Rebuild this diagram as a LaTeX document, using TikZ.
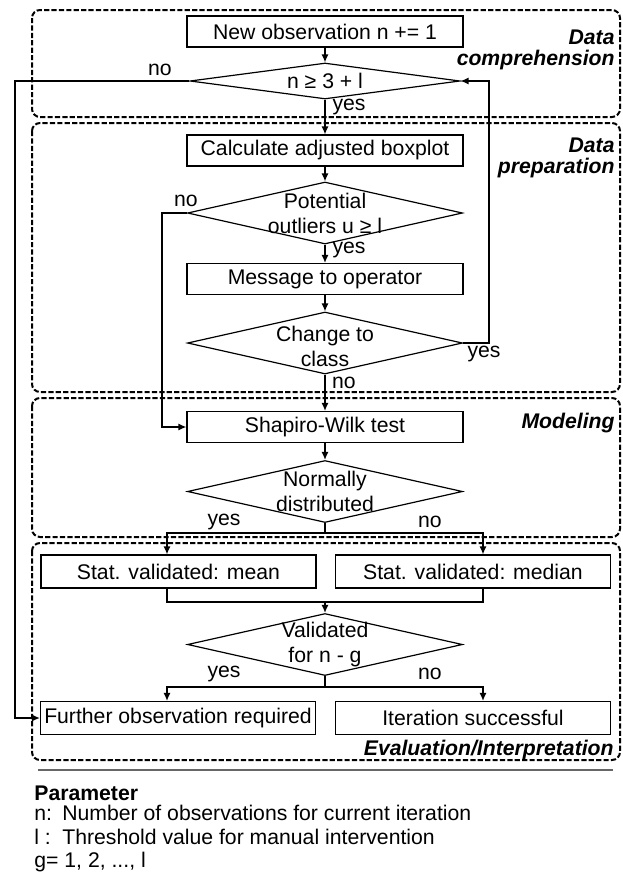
\documentclass[tikz,border=0pt]{standalone}
\usepackage{fontspec}
\setmainfont{Liberation Sans}
\usetikzlibrary{shapes.geometric, arrows.meta}
\tikzset{
  box/.style={shape=rectangle, draw, line width=0.6pt, minimum width=138pt, minimum height=15.5pt, inner sep=0pt},
  wide/.style={minimum width=137.5pt, minimum height=16.5pt},
  dia/.style={shape=diamond, draw, line width=0.6pt, minimum width=137.5pt, minimum height=31pt, inner sep=0pt},
  phase/.style={draw, line width=1pt, dash pattern=on 2.6pt off 1.1pt, rounded corners=4pt},
  phasename/.style={anchor=east, align=right, inner sep=0pt, font=\fontsize{10.6}{10.5}\selectfont\bfseries\itshape},
  flow/.style={line width=0.7pt},
  >={Latex[length=4pt, width=3.6pt]}
}
\begin{document}
\begin{tikzpicture}[x=0.5pt, y=-0.5pt, font=\fontsize{10.6}{12.5}\selectfont]
    \useasboundingbox (0,0) rectangle (622,890);
    \pgfmathsetmacro{\xc}{325}

    % phases
    \draw[phase] (32,10) rectangle (620,117);
    \draw[phase] (32,123) rectangle (620,392);
    \draw[phase] (32,398) rectangle (620,537);
    \draw[phase] (32,543) rectangle (620,760);
    \node[phasename] (pcomp) at (615,50) {Data\\comprehension};
    \node[phasename] (pprep) at (615,158) {Data\\preparation};
    \node[phasename] (pmod) at (615,423) {Modeling};
    \node[phasename] (peval) at (614,750) {Evaluation/Interpretation};

    \node[box] (new) at (\xc,31.5) {New observation n += 1};
    \node[dia, minimum width=135pt, minimum height=18pt] (d1) at (\xc,81) {};
    \node (d1t) at (d1) {n ≥ 3 + l};
    \node[box] (calc) at (\xc,150.5) {Calculate adjusted boxplot};
    \node[dia] (d2) at (\xc,213) {};
    \node[align=center] (d2t) at (d2) {Potential\\outliers u ≥ l};
    \node[box] (msg) at (\xc,279) {Message to operator};
    \node[dia] (d3) at (\xc,343) {};
    \node[align=center] (d3t) at (\xc,346) {Change to\\class};
    \node[box] (shap) at (\xc,427) {Shapiro-Wilk test};
    \node[dia] (d4) at (\xc,491.5) {};
    \node[align=center] (d4t) at (d4) {Normally\\distributed};
    \node[box, wide] (mean) at (178.5,571.5) {Stat. validated: mean};
    \node[box, wide] (median) at (473,571.5) {Stat. validated: median};
    \node[dia] (d5) at (\xc,644.5) {};
    \node[align=center] (d5t) at (d5) {Validated\\for n - g};
    \node[box, wide] (further) at (178,718) {Further observation required};
    \node[box, wide] (done) at (473,718) {Iteration successful};

    \coordinate (ll) at (15,0);
    \coordinate (lm) at (162,0);
    \coordinate (rr) at (489,0);
    \coordinate (bl) at (167,0);
    \coordinate (br) at (483,0);
    \coordinate (j1) at (\xc,533);
    \coordinate (j2) at (\xc,602);
    \coordinate (j3) at (\xc,687);

    \draw[flow, ->] (new) -- (d1);
    \draw[flow, ->] (d1.west) -- (d1.west -| ll) |- (further.west);
    \draw[flow, ->] (d1) -- (calc);
    \draw[flow, ->] (calc) -- (d2);
    \draw[flow, ->] (d2.west) -- (d2.west -| lm) |- (shap.west);
    \draw[flow, ->] (d2) -- (msg);
    \draw[flow, ->] (msg) -- (d3);
    \draw[flow, ->] (d3.east) -- (d3.east -| rr) |- (d1.east);
    \draw[flow, ->] (d3) -- (shap);
    \draw[flow, ->] (shap) -- (d4);
    \draw[flow] (d4.south) -- (j1);
    \draw[flow, ->] (j1) -| (mean.north -| bl);
    \draw[flow, ->] (j1) -| (median.north -| br);
    \draw[flow] (mean.south -| bl) |- (j2) -| (median.south -| br);
    \draw[flow, ->] (j2) -- (d5);
    \draw[flow] (d5.south) -- (j3);
    \draw[flow, ->] (j3) -| (further.north -| bl);
    \draw[flow, ->] (j3) -| (done.north -| br);

    \node (no1) at (160,70) {no};
    \node (yes1) at (349,107) {yes};
    \node (no2) at (186,201) {no};
    \node (yes2) at (349,250) {yes};
    \node (yes3) at (484,354) {yes};
    \node (no3) at (344,383) {no};
    \node (yes4) at (224,522) {yes};
    \node (no4) at (430,522) {no};
    \node (yes5) at (224,674) {yes};
    \node (no5) at (430,674) {no};

    % legend
    \draw[line width=1.3pt, black!60] (38,770) -- (613,770);
    \node[anchor=base west, inner xsep=0pt, font=\fontsize{10.6}{12.5}\selectfont\bfseries] (par) at (34,800) {Parameter};
    \node[anchor=base west, inner xsep=0pt] (pn) at (34,820) {\makebox[14pt][l]{n:}Number of observations for current iteration};
    \node[anchor=base west, inner xsep=0pt] (pl) at (34,844) {\makebox[14pt][l]{l :}Threshold value for manual intervention};
    \node[anchor=base west, inner xsep=0pt] (pg) at (34,867) {g= 1, 2, ..., l};
\end{tikzpicture}
\end{document}
